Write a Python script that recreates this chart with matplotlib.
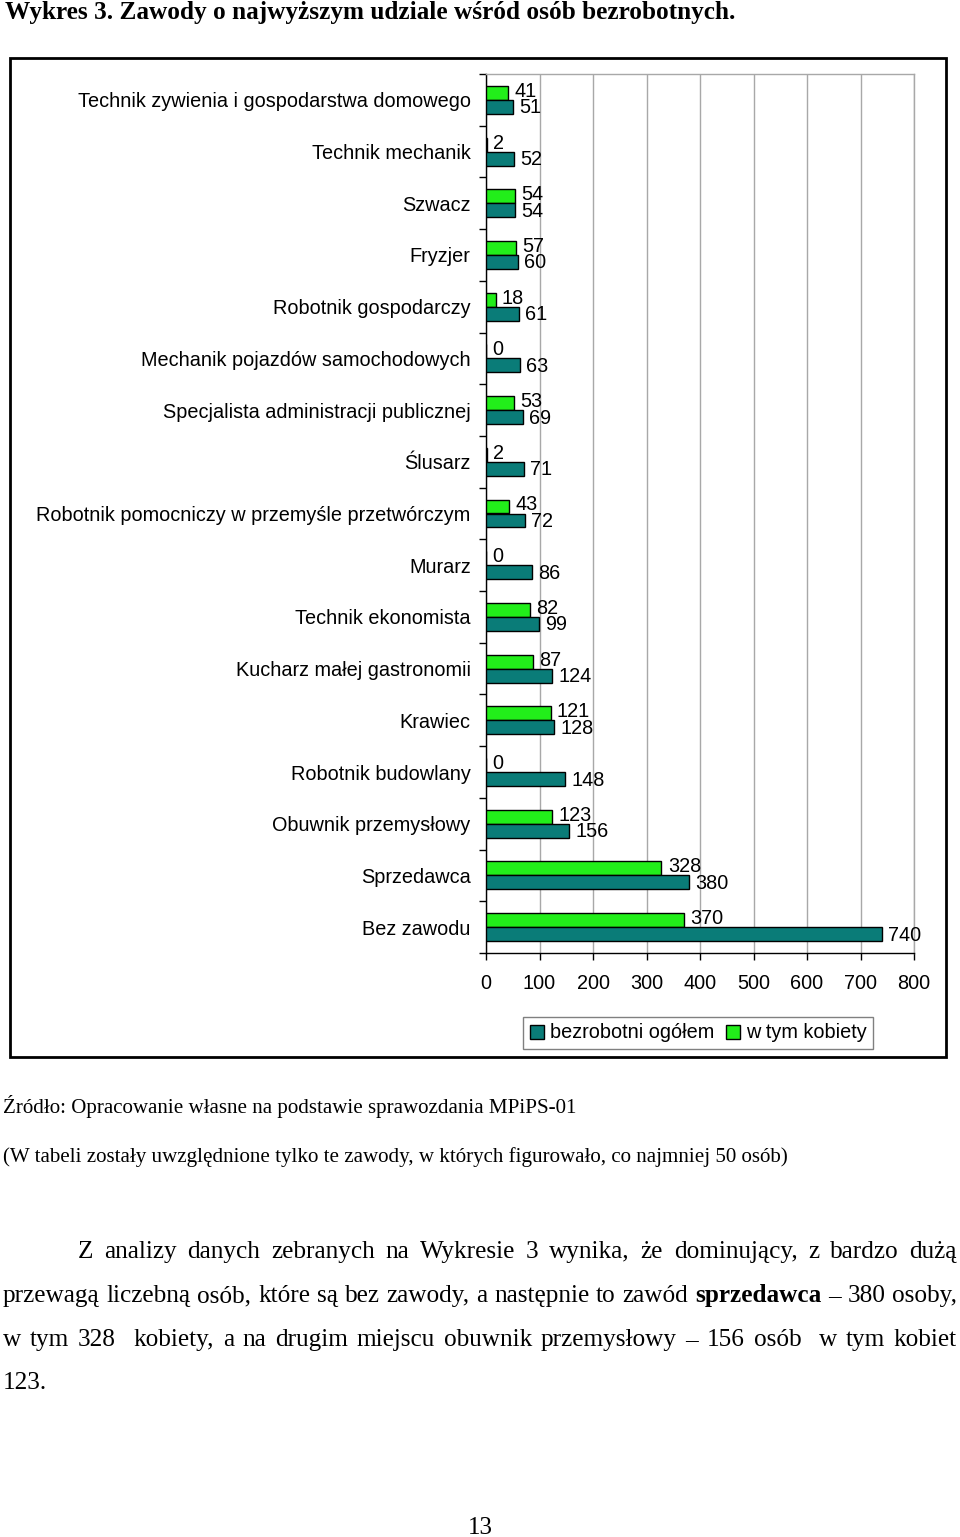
import matplotlib
matplotlib.use("Agg")
import matplotlib.pyplot as plt
import numpy as np
from matplotlib.patches import Rectangle, Patch

# ---------------- data ----------------
categories = [
    "Technik zywienia i gospodarstwa domowego",
    "Technik mechanik",
    "Szwacz",
    "Fryzjer",
    "Robotnik gospodarczy",
    "Mechanik pojazdów samochodowych",
    "Specjalista administracji publicznej",
    "Ślusarz",
    "Robotnik pomocniczy w przemyśle przetwórczym",
    "Murarz",
    "Technik ekonomista",
    "Kucharz małej gastronomii",
    "Krawiec",
    "Robotnik budowlany",
    "Obuwnik przemysłowy",
    "Sprzedawca",
    "Bez zawodu",
]
total = [51, 52, 54, 60, 61, 63, 69, 71, 72, 86, 99, 124, 128, 148, 156, 380, 740]
women = [41, 2, 54, 57, 18, 0, 53, 2, 43, 0, 82, 87, 121, 0, 123, 328, 370]
x_ticks = [0, 100, 200, 300, 400, 500, 600, 700, 800]
series_names = ["bezrobotni ogółem", "w tym kobiety"]

title = "Wykres 3. Zawody o najwyższym udziale wśród osób bezrobotnych."
source = "Źródło: Opracowanie własne na podstawie sprawozdania MPiPS-01"
note = "(W tabeli zostały uwzględnione tylko te zawody, w których figurowało, co najmniej 50 osób)"
para_lines = [
    "Z analizy danych zebranych na Wykresie 3 wynika, że dominujący, z bardzo dużą",
    "przewagą liczebną osób, które są bez zawody, a następnie to zawód *sprzedawca – 380 osoby,",
    "w tym 328  kobiety, a na drugim miejscu obuwnik przemysłowy – 156 osób  w tym kobiet",
    "123.",
]
page_no = "13"

# ---------------- layout ----------------
W, H = 960, 1537
fig = plt.figure(figsize=(W / 100, H / 100), dpi=100)
fig.patch.set_facecolor("white")

def fx(x):
    return x / W

def fy(y):
    return 1 - y / H

SANS = "Liberation Sans"
SERIF = "Liberation Serif"
TEAL = "#0A7C78"
GREEN = "#22EE1A"
GRID = "#a8a8a8"
CFS = 14.3

ax = fig.add_axes([fx(486), fy(953), (914 - 486) / W, (953 - 74) / H])
n = len(categories)
y = np.arange(n)
h = 0.27
ax.barh(y - h / 2, women, h, color=GREEN, edgecolor="black", linewidth=1, zorder=3)
ax.barh(y + h / 2, total, h, color=TEAL, edgecolor="black", linewidth=1, zorder=3)

for yi, v in zip(y, women):
    ax.annotate(str(v), (v, yi - h / 2 - 0.03), xytext=(4.5, 0), textcoords="offset points",
                va="center", ha="left", fontsize=CFS, family=SANS, zorder=4)
for yi, v in zip(y, total):
    ax.annotate(str(v), (v, yi + h / 2 + 0.02), xytext=(4.5, 0), textcoords="offset points",
                va="center", ha="left", fontsize=CFS, family=SANS, zorder=4)

ax.set_ylim(n - 0.5, -0.5)
ax.set_xlim(0, 800)
ax.set_xticks(x_ticks)
ax.set_xticklabels([str(t) for t in x_ticks], fontsize=CFS, family=SANS)
ax.set_yticks(y)
ax.set_yticklabels(categories, fontsize=CFS, family=SANS)
ax.set_yticks(np.arange(-0.5, n + 0.5, 1), minor=True)
ax.tick_params(axis="y", which="major", length=0, pad=11)
ax.tick_params(axis="y", which="minor", length=5, width=1, direction="out")
ax.tick_params(axis="x", which="major", length=5, width=1, direction="out", pad=10)
ax.grid(axis="x", color=GRID, linewidth=1, zorder=0)
ax.set_axisbelow(True)
for s in ["top", "right"]:
    ax.spines[s].set_color(GRID)
    ax.spines[s].set_linewidth(1)
for s in ["left", "bottom"]:
    ax.spines[s].set_color("black")
    ax.spines[s].set_linewidth(1)

# chart frame
fig.patches.append(Rectangle((fx(10), fy(1057)), (946 - 10) / W, (1057 - 58) / H,
                             transform=fig.transFigure, fill=False,
                             edgecolor="black", linewidth=2))

leg = fig.legend(handles=[Patch(facecolor=TEAL, edgecolor="black"),
                          Patch(facecolor=GREEN, edgecolor="black")],
                 labels=series_names, loc="center",
                 bbox_to_anchor=(fx(698), fy(1033)), ncol=2, fancybox=False,
                 edgecolor="#808080", framealpha=1, prop={"family": SANS, "size": CFS},
                 handlelength=0.7, handleheight=0.7, handletextpad=0.3,
                 columnspacing=0.6, borderpad=0.35, borderaxespad=0)
leg.get_frame().set_linewidth(1)

# ---------------- page text ----------------
fig.text(fx(5), fy(19), title, family=SERIF, fontweight="bold", fontsize=18.2,
         ha="left", va="baseline")
fig.text(fx(3), fy(1113), source, family=SERIF, fontsize=15.1, ha="left", va="baseline")
fig.text(fx(3), fy(1162), note, family=SERIF, fontsize=15.1, ha="left", va="baseline")
fig.text(fx(480), fy(1534), page_no, family=SERIF, fontsize=18, ha="center", va="baseline")

renderer = fig.canvas.get_renderer()
PFS = 18.2
line_specs = [(78, 957, 1258, True), (3, 957, 1302, True), (3, 957, 1346, True),
              (3, 957, 1389, False)]
for line, (x0, x1, yb, justify) in zip(para_lines, line_specs):
    words = line.split(" ")
    texts = []
    for w in words:
        bold = w.startswith("*")
        w2 = w.lstrip("*")
        t = fig.text(fx(x0), fy(yb), w2, family=SERIF, fontsize=PFS,
                     fontweight="bold" if bold else "normal", ha="left", va="baseline")
        texts.append(t)
    widths = [t.get_window_extent(renderer).width if t.get_text() else 0 for t in texts]
    if justify and len(texts) > 1:
        gap = ((x1 - x0) - sum(widths)) / (len(texts) - 1)
    else:
        gap = 5
    x = x0
    for t, wd in zip(texts, widths):
        t.set_x(fx(x))
        x += wd + gap

fig.savefig("out.png", dpi=100, facecolor="white")
